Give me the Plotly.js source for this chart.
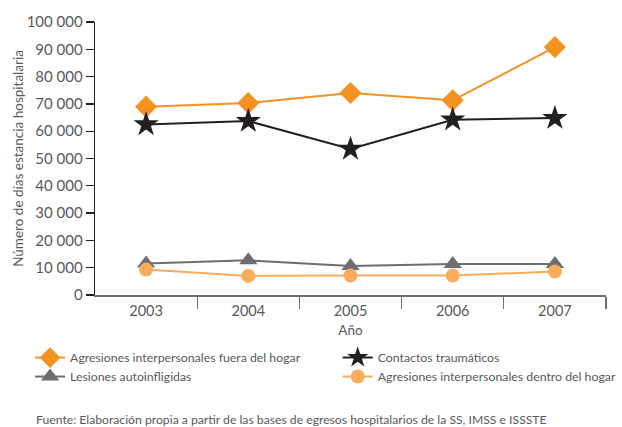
<!DOCTYPE html>
<html><head><meta charset="utf-8">
<script src="https://cdn.plot.ly/plotly-3.0.1.min.js"></script>
<style>html,body{margin:0;padding:0;background:#fff}#chart{width:622px;height:427px}</style>
</head><body><div id="chart"></div>
<script>
const years = ['2003','2004','2005','2006','2007'];
const fueraHogar = [69000, 70300, 74000, 71300, 90800];
const contactos = [62500, 63700, 53500, 64200, 64800];
const autoinfligidas = [11500, 12700, 10600, 11400, 11400];
const dentroHogar = [9300, 7000, 7100, 7100, 8600];
const yTickVals = [0,10000,20000,30000,40000,50000,60000,70000,80000,90000,100000];
const yTickText = ['0','10 000','20 000','30 000','40 000','50 000','60 000','70 000','80 000','90 000','100 000'];
const names = ['Agresiones interpersonales fuera del hogar','Contactos traumáticos','Lesiones autoinfligidas','Agresiones interpersonales dentro del hogar'];

const font = {family:'Lato, "Open Sans", sans-serif', color:'#58595b'};
function tr(y, name, color, symbol, size, legend){
  return {x: years, y: y, name: name, type:'scatter', mode:'lines+markers', legend: legend,
    line:{color: color, width:2}, marker:{symbol: symbol, size: size, color: color}};
}
const data = [
  tr(fueraHogar, names[0], '#F39220', 'diamond', 17, 'legend'),
  tr(contactos, names[1], '#231F20', 'star', 19, 'legend2'),
  tr(autoinfligidas, names[2], '#6D6E71', 'triangle-up', 16, 'legend'),
  tr(dentroHogar, names[3], '#F8AC5D', 'circle', 14, 'legend2')
];
const legFont = Object.assign({size:12.3}, font);
const layout = {
  width:622, height:427,
  margin:{l:95, r:16, t:22, b:132, autoexpand:false},
  paper_bgcolor:'#fff', plot_bgcolor:'#fff',
  font: Object.assign({size:13}, font),
  showlegend:true,
  legend:{orientation:'v', x:-0.127, xanchor:'left', y:-0.176, yanchor:'top', font:legFont, tracegroupgap:0, traceorder:'normal'},
  legend2:{orientation:'v', x:0.475, xanchor:'left', y:-0.176, yanchor:'top', font:legFont, tracegroupgap:0, traceorder:'normal'},
  xaxis:{type:'category', range:[-0.5,4.5], showgrid:false, zeroline:false,
    showline:true, linecolor:'#6D6E71', linewidth:1.5,
    tickmode:'array', tickvals:[0.5,1.5,2.5,3.5,4.5], ticktext:['','','','',''],
    ticks:'outside', ticklen:12, tickcolor:'#6D6E71', tickwidth:1.3,
    title:{text:'Año', font:Object.assign({size:13.5}, font), standoff:15}},
  xaxis2:{overlaying:'x', anchor:'y', type:'category', range:[-0.5,4.5], showgrid:false, zeroline:false,
    showline:false, ticks:'outside', ticklen:3, tickcolor:'rgba(0,0,0,0)', tickfont:Object.assign({size:14.5}, font), side:'bottom'},
  yaxis:{range:[0,100000], showgrid:false, zeroline:false, showline:true, linecolor:'#231F20', linewidth:1.3,
    ticks:'outside', ticklen:8, tickcolor:'#231F20', tickwidth:1.3,
    tickmode:'array', tickvals:yTickVals, ticktext:yTickText,
    tickfont:Object.assign({size:15}, font),
    title:{text:'Número de días estancia hospitalaria', font:Object.assign({size:13.5}, font), standoff:0}},
  annotations:[{xref:'paper', yref:'paper', x:-0.12, y:-0.42, xanchor:'left', yanchor:'top', showarrow:false,
    text:'Fuente: Elaboración propia a partir de las bases de egresos hospitalarios de la SS, IMSS e ISSSTE',
    font:Object.assign({size:12.2}, font)}]
};
data.push({x: years, y:[null,null,null,null,null], xaxis:'x2', yaxis:'y', type:'scatter', mode:'markers', showlegend:false, hoverinfo:'skip'});
Plotly.newPlot('chart', data, layout, {displayModeBar:false, staticPlot:true});
</script></body></html>
